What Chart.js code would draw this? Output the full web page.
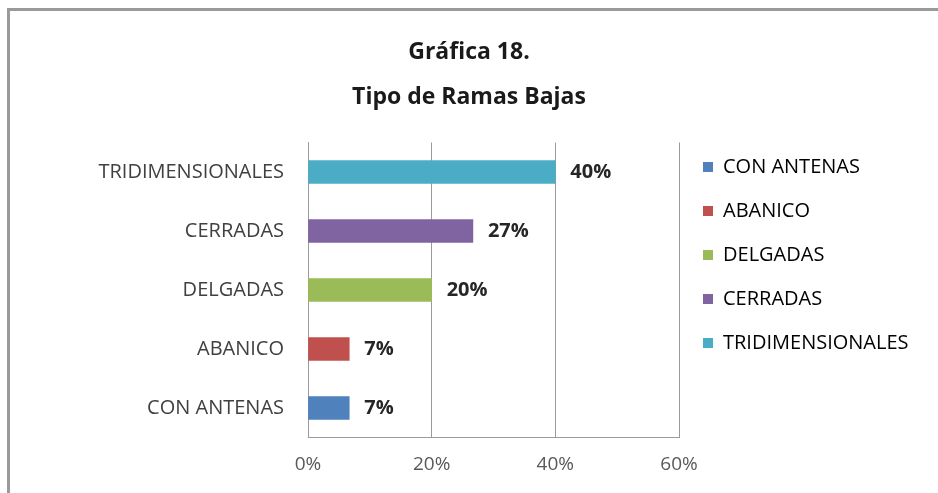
<!DOCTYPE html>
<html>
<head>
<meta charset="utf-8">
<script src="https://cdn.jsdelivr.net/npm/chart.js@4/dist/chart.umd.min.js"></script>
<style>
  html, body { margin: 0; padding: 0; background: #fff; overflow: hidden; }
  #wrap { position: relative; width: 938px; height: 493px; }
  #frame {
    position: absolute; left: 7px; top: 8px; width: 1000px; height: 600px;
    border-left: 3px solid #9a9a9a; border-top: 3px solid #9a9a9a;
    box-sizing: border-box;
  }
  canvas { position: absolute; left: 0; top: 0; }
</style>
</head>
<body>
<div id="wrap">
  <div id="frame"></div>
  <canvas id="chart" width="938" height="493"></canvas>
</div>
<script>
const categories = ['CON ANTENAS', 'ABANICO', 'DELGADAS', 'CERRADAS', 'TRIDIMENSIONALES'];
const percentages = [6.67, 6.67, 20, 26.67, 40];
const barColors = ['#4F81BD', '#C0504D', '#9BBB59', '#8064A2', '#4BACC6'];
const xTickValues = [0, 20, 40, 60];
const titleLines = ['Gráfica 18.', 'Tipo de Ramas Bajas'];

const FONT = '"Open Sans", "Liberation Sans", sans-serif';

// value labels at the end of each bar
const barValueLabels = {
    id: 'barValueLabels',
    afterDatasetsDraw(chart) {
        const ctx = chart.ctx;
        const meta = chart.getDatasetMeta(0);
        ctx.save();
        ctx.font = 'bold 20px ' + FONT;
        ctx.fillStyle = '#262626';
        ctx.textBaseline = 'middle';
        ctx.textAlign = 'left';
        meta.data.forEach((bar, i) => {
            ctx.fillText(Math.round(percentages[i]) + '%', bar.x + 15, bar.y);
        });
        ctx.restore();
    }
};

// fixed legend width so the plot ends where the reference does
const legendWidth = {
    id: 'legendWidth',
    beforeInit(chart) {
        const originalFit = chart.legend.fit;
        chart.legend.fit = function fit() {
            originalFit.bind(chart.legend)();
            this.width = 259;
        };
    }
};

document.addEventListener('DOMContentLoaded', () => {
    const ctx = document.getElementById('chart').getContext('2d');
    new Chart(ctx, {
        type: 'bar',
        data: {
            labels: categories,
            datasets: [{
                data: percentages,
                backgroundColor: barColors,
                borderWidth: 0,
                barThickness: 23
            }]
        },
        options: {
            indexAxis: 'y',
            responsive: false,
            animation: false,
            layout: { padding: { top: 17, left: 0, right: 0, bottom: 0 } },
            scales: {
                x: {
                    min: xTickValues[0],
                    max: xTickValues[xTickValues.length - 1],
                    ticks: {
                        stepSize: 20,
                        callback: v => v + '%',
                        color: '#595959',
                        font: { family: FONT, size: 19 },
                        padding: 16
                    },
                    grid: { color: '#9a9a9a', lineWidth: 1, drawTicks: false },
                    border: { color: '#9a9a9a', width: 1 },
                    afterFit: scale => { scale.height = 55.5; }
                },
                y: {
                    reverse: true,
                    ticks: {
                        color: '#404040',
                        font: { family: FONT, size: 20 },
                        padding: 16
                    },
                    grid: { display: false },
                    border: { color: '#9a9a9a', width: 1 },
                    afterFit: scale => { scale.width = 308; }
                }
            },
            plugins: {
                title: {
                    display: true,
                    text: titleLines,
                    color: '#1a1a1a',
                    font: { family: FONT, size: 23, weight: 'bold', lineHeight: '45px' },
                    padding: { top: 12.5, bottom: 23 }
                },
                legend: {
                    position: 'right',
                    align: 'center',
                    labels: {
                        boxWidth: 10,
                        boxHeight: 10,
                        padding: 24,
                        color: '#404040',
                        font: { family: FONT, size: 20 },
                        generateLabels: () => categories.map((c, i) => ({
                            text: c,
                            fillStyle: barColors[i],
                            strokeStyle: barColors[i],
                            lineWidth: 0,
                            hidden: false,
                            index: i
                        }))
                    }
                },
                tooltip: { enabled: false }
            }
        },
        plugins: [barValueLabels, legendWidth]
    });
});
</script>
</body>
</html>
